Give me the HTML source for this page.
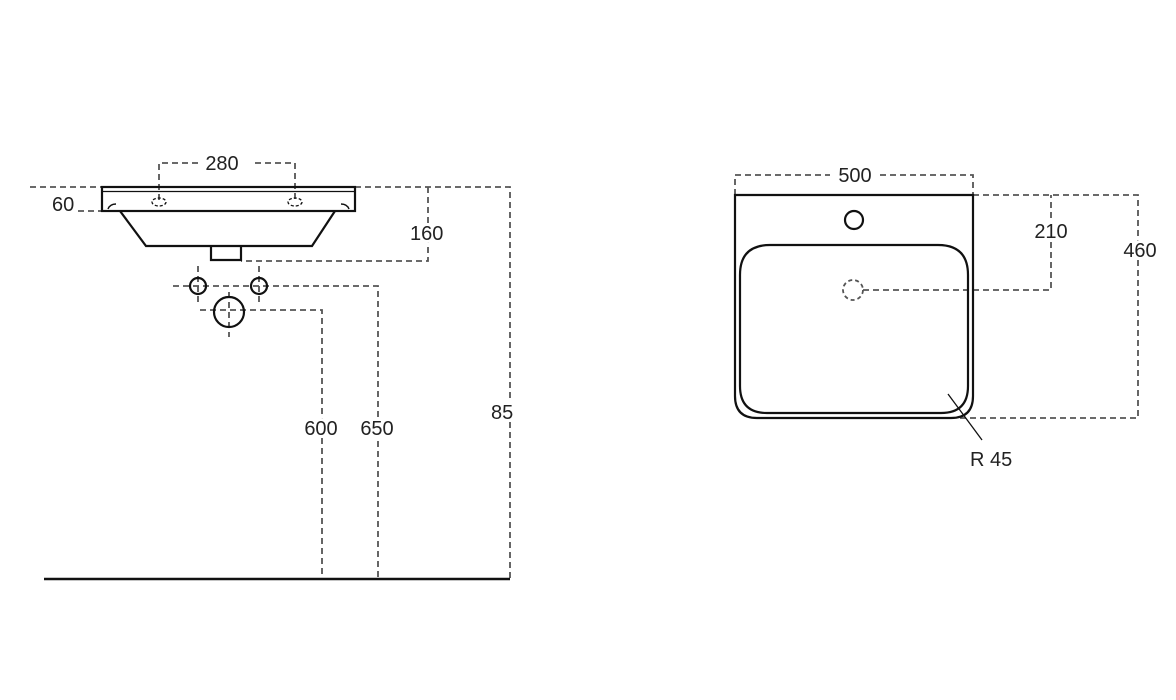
<!DOCTYPE html>
<html><head><meta charset="utf-8"><style>
html,body{margin:0;padding:0;background:#fff;}
svg{display:block;}
text{font-family:"Liberation Sans",sans-serif;font-size:20px;fill:#222;stroke:#fff;stroke-width:6px;paint-order:stroke;}
</style></head><body>
<svg width="1176" height="700" viewBox="0 0 1176 700" xmlns="http://www.w3.org/2000/svg">
<g fill="none" stroke="#555" stroke-width="1.8" stroke-dasharray="6,4">
<path d="M30 187H102M355 187H510V580"/>
<path d="M78 211H102"/>
<path d="M159 200V163H200M255 163H295V200"/>
<path d="M428 187V261H241"/>
<path d="M173 286H378V578"/>
<path d="M198 266V305M259 266V305"/>
<path d="M200 310H322V578"/>
<path d="M229 292V337"/>
<path d="M735 195V175H830M880 175H973V195"/>
<path d="M973 195H1138V418H960"/>
<path d="M863 290H1051V195"/>
<circle cx="853" cy="290" r="10" stroke-dasharray="4,3"/>
</g>
<g fill="none" stroke="#111" stroke-width="2.2">
<rect x="102" y="187" width="253" height="24"/>
<path d="M102 191.5H355" stroke-width="1.2"/>
<path d="M120 211L146 246H312L335 211"/>
<path d="M211 246V260H241V246"/>
<ellipse cx="159" cy="202" rx="7" ry="4" stroke-width="1.3" stroke-dasharray="3,2"/>
<ellipse cx="295" cy="202" rx="7" ry="4" stroke-width="1.3" stroke-dasharray="3,2"/>
<path d="M108 209q2-5 8-5M349 209q-2-5-8-5" stroke-width="1.5"/>
<circle cx="198" cy="286" r="8"/>
<circle cx="259" cy="286" r="8"/>
<circle cx="229" cy="312" r="15"/>
<path d="M44 579H510" stroke-width="2.5"/>
<path d="M735 195H973V396Q973 418 951 418H757Q735 418 735 396Z"/>
<path d="M740 275Q740 245 770 245H938Q968 245 968 275V386Q968 413 941 413H767Q740 413 740 386Z"/>
<circle cx="854" cy="220" r="9"/>
<path d="M948 394L982 440" stroke-width="1.3"/>
</g>
<text x="222" y="170" text-anchor="middle">280</text>
<text x="52" y="211">60</text>
<text x="410" y="240">160</text>
<text x="321" y="435" text-anchor="middle">600</text>
<text x="377" y="435" text-anchor="middle">650</text>
<text x="491" y="419">85</text>
<text x="855" y="182" text-anchor="middle">500</text>
<text x="1051" y="238" text-anchor="middle">210</text>
<text x="1140" y="257" text-anchor="middle">460</text>
<text x="970" y="466">R 45</text>
</svg>
</body></html>
